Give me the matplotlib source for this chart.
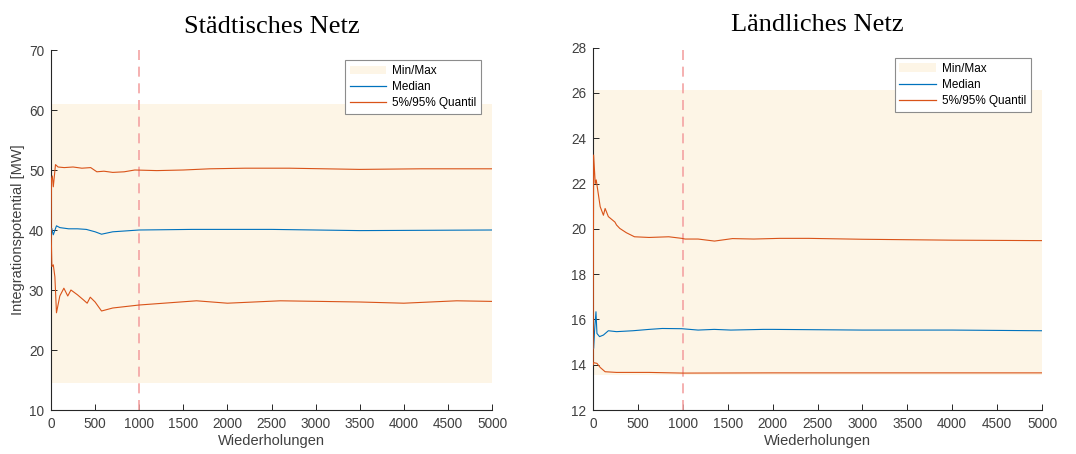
import numpy as np
import matplotlib.pyplot as plt
from matplotlib.patches import Patch
from matplotlib.lines import Line2D

# Städtisches Netz
st_band = (14.55, 60.95)
st_up_x = [1, 5, 15, 26, 51, 80, 150, 250, 350, 450, 520, 600, 700, 830, 950, 1200, 1500, 1800, 2200, 2700, 3500, 4200, 5000]
st_up_y = [40, 48.5, 49.0, 47.2, 50.9, 50.5, 50.4, 50.5, 50.3, 50.4, 49.7, 49.8, 49.6, 49.7, 50.0, 49.9, 50.0, 50.2, 50.3, 50.3, 50.1, 50.2, 50.2]
st_med_x = [1, 7, 26, 62, 100, 200, 300, 400, 500, 573, 700, 1000, 1600, 2500, 3500, 5000]
st_med_y = [40, 40.3, 39.2, 40.7, 40.4, 40.2, 40.2, 40.1, 39.7, 39.3, 39.7, 40.0, 40.1, 40.1, 39.9, 40.0]
st_lo_x = [1, 10, 26, 44, 62, 100, 146, 190, 226, 300, 372, 410, 445, 500, 573, 700, 1000, 1650, 2000, 2600, 3500, 4000, 4600, 5000]
st_lo_y = [40, 33.9, 34.2, 32.2, 26.2, 29.0, 30.3, 29.0, 30.0, 29.2, 28.3, 27.8, 28.8, 28.0, 26.5, 27.0, 27.5, 28.2, 27.8, 28.2, 28.0, 27.8, 28.2, 28.1]

# Ländliches Netz
la_band = (13.55, 26.13)
la_up_x = [1, 7, 25, 36, 80, 116, 135, 171, 244, 262, 298, 371, 462, 625, 844, 989, 1025, 1170, 1353, 1553, 1790, 2080, 2400, 3000, 4000, 5000]
la_up_y = [14.0, 23.26, 22.0, 22.16, 20.98, 20.6, 20.9, 20.54, 20.3, 20.17, 20.02, 19.83, 19.65, 19.62, 19.65, 19.58, 19.55, 19.55, 19.46, 19.57, 19.55, 19.58, 19.58, 19.54, 19.5, 19.48]
la_med_x = [1, 7, 18, 33, 44, 73, 116, 171, 262, 444, 625, 771, 989, 1170, 1350, 1535, 1898, 2000, 3000, 4000, 5000]
la_med_y = [14.7, 14.72, 15.53, 16.34, 15.38, 15.24, 15.31, 15.5, 15.46, 15.5, 15.56, 15.6, 15.59, 15.53, 15.56, 15.53, 15.56, 15.56, 15.53, 15.53, 15.5]
la_lo_x = [1, 7, 44, 80, 135, 262, 625, 1000, 2000, 3000, 5000]
la_lo_y = [14.0, 14.09, 14.06, 13.88, 13.69, 13.66, 13.66, 13.63, 13.64, 13.64, 13.64]

xticks = np.arange(0, 5001, 500)
marker_x = 1000

c_med = '#0072BD'
c_q = '#D95319'
c_band = '#FDF5E6'
c_axis = '#262626'
c_tick = '#404040'

plt.rcParams['font.family'] = ['Liberation Sans', 'DejaVu Sans']

fig = plt.figure(figsize=(10.76, 4.54), dpi=100)
ax1 = fig.add_axes([51/1076, 44/454, 441/1076, 360/454])
ax2 = fig.add_axes([593/1076, 44/454, 449/1076, 362.3/454])


def panel(ax, band, up, med, lo, ylim, yticks, title):
    ax.fill_between([0, 5000], band[0], band[1], color=c_band, lw=0, zorder=1)
    ax.axvline(marker_x, color='#F4A3A3', ls=(0, (6, 4)), lw=1.2, zorder=2)
    ax.plot(med[0], med[1], color=c_med, lw=0.8, zorder=3)
    ax.plot(up[0], up[1], color=c_q, lw=0.8, zorder=3)
    ax.plot(lo[0], lo[1], color=c_q, lw=0.8, zorder=3)
    ax.set_xlim(0, 5000)
    ax.set_ylim(*ylim)
    ax.set_xticks(xticks)
    ax.set_yticks(yticks)
    for s in ['top', 'right']:
        ax.spines[s].set_visible(False)
    for s in ['left', 'bottom']:
        ax.spines[s].set_color(c_axis)
        ax.spines[s].set_linewidth(0.8)
    ax.tick_params(direction='in', length=4, width=0.7, colors=c_axis,
                   labelcolor=c_tick, labelsize=9.8, pad=5)
    ax.set_xlabel('Wiederholungen', fontsize=10.5, color=c_tick, labelpad=2)
    ax.set_title(title, fontsize=19, family='Liberation Serif', pad=12)
    handles = [Patch(facecolor=c_band, edgecolor='none'),
               Line2D([], [], color=c_med, lw=0.9),
               Line2D([], [], color=c_q, lw=0.9)]
    leg = ax.legend(handles, ['Min/Max', 'Median', '5%/95% Quantil'],
                    loc='upper right', bbox_to_anchor=(0.975, 0.972),
                    fontsize=8.5, fancybox=False, framealpha=1,
                    edgecolor='#8c8c8c', handlelength=3.1, borderpad=0.4,
                    labelspacing=0.35, handletextpad=0.5, borderaxespad=0)
    leg.get_frame().set_linewidth(0.8)


panel(ax1, st_band, (st_up_x, st_up_y), (st_med_x, st_med_y), (st_lo_x, st_lo_y),
      (10, 70), np.arange(10, 71, 10), 'Städtisches Netz')
ax1.set_ylabel('Integrationspotential [MW]', fontsize=10.5, color=c_tick, labelpad=3)

panel(ax2, la_band, (la_up_x, la_up_y), (la_med_x, la_med_y), (la_lo_x, la_lo_y),
      (12, 28), np.arange(12, 29, 2), 'Ländliches Netz')

fig.savefig('out.png', dpi=100)
